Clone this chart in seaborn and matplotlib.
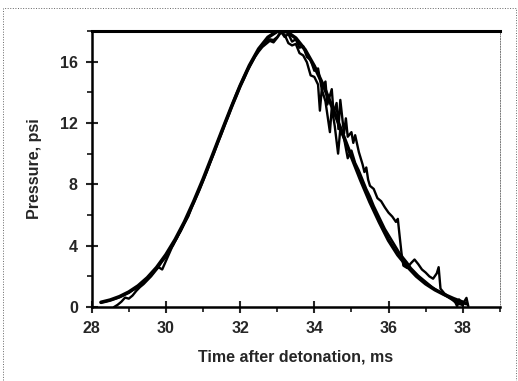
import numpy as np
import pandas as pd
import matplotlib
matplotlib.use('Agg')
import matplotlib.pyplot as plt
import seaborn as sns
from matplotlib.ticker import MultipleLocator

# smooth fitted pulse
fit_t = [28.25, 28.5, 28.75, 29.0, 29.25, 29.5, 29.75, 30.0, 30.25, 30.5, 30.75,
         31.0, 31.25, 31.5, 31.75, 32.0, 32.25, 32.5, 32.75, 33.0, 33.25, 33.5,
         33.75, 34.0, 34.25, 34.5, 34.75, 35.0, 35.25, 35.5, 35.75, 36.0, 36.25,
         36.5, 36.75, 37.0, 37.25, 37.5, 37.75, 38.0, 38.1]
fit_p = [0.31, 0.46, 0.68, 0.98, 1.38, 1.91, 2.58, 3.41, 4.40, 5.55, 6.88,
         8.32, 9.86, 11.42, 12.95, 14.42, 15.74, 16.82, 17.58, 17.97, 17.95, 17.53,
         16.77, 15.70, 14.40, 12.93, 11.38, 9.80, 8.27, 6.84, 5.55, 4.35, 3.40,
         2.66, 2.02, 1.52, 1.13, 0.82, 0.55, 0.32, 0.22]

# measured trace 1 (close to fit)
a_t = [28.25, 28.4, 28.5, 28.6, 28.7, 28.8, 28.9, 29.0, 29.1, 29.2, 29.3, 29.4,
       29.5, 29.6, 29.7, 29.8, 29.9, 30.0, 30.1, 30.2, 30.3, 30.4, 30.5, 30.6,
       30.7, 30.8, 30.9, 31.0, 31.1, 31.2, 31.3, 31.4, 31.5, 31.6, 31.7, 31.8,
       31.9, 32.0, 32.1, 32.2, 32.3, 32.4, 32.5, 32.6, 32.7, 32.8, 32.9, 33.0,
       33.1, 33.2, 33.3, 33.4, 33.5, 33.6, 33.7, 33.8, 33.9, 34.0, 34.1, 34.15,
       34.2, 34.3, 34.42, 34.47, 34.55, 34.64, 34.7, 34.8, 34.9, 35.0, 35.1,
       35.2, 35.3, 35.4, 35.5, 35.6, 35.7, 35.8, 35.9, 36.0, 36.1, 36.2, 36.3,
       36.4, 36.5, 36.6, 36.7, 36.8, 36.9, 37.0, 37.1, 37.2, 37.3, 37.4, 37.5,
       37.6, 37.7, 37.8, 37.9, 38.0]
a_p = [0.30, 0.38, 0.45, 0.52, 0.60, 0.70, 0.82, 0.93, 1.10, 1.22, 1.45, 1.60,
       1.85, 2.05, 2.38, 2.62, 2.98, 3.25, 3.70, 4.05, 4.55, 4.95, 5.45, 5.90,
       6.50, 7.05, 7.60, 8.20, 8.80, 9.45, 10.05, 10.70, 11.30, 11.95, 12.55, 13.20,
       13.75, 14.35, 14.85, 15.40, 15.85, 16.30, 16.65, 16.95, 17.15, 17.35, 17.25, 17.55,
       17.90, 17.75, 17.20, 17.05, 17.15, 16.55, 16.40, 15.95, 15.10, 15.00, 14.50, 12.80,
       14.20, 13.40, 11.40, 13.00, 11.80, 10.00, 11.60, 11.00, 9.70, 10.20, 9.40,
       8.90, 8.30, 7.70, 7.20, 6.60, 6.10, 5.60, 5.10, 4.70, 4.30, 3.90, 3.50,
       3.20, 2.90, 2.55, 2.30, 2.05, 1.85, 1.65, 1.45, 1.25, 1.10, 0.95, 0.80,
       0.65, 0.50, 0.35, 0.20, 0.15]

# measured trace 2 (wider tail)
b_t = [28.6, 28.7, 28.8, 28.9, 29.0, 29.1, 29.2, 29.3, 29.4, 29.5, 29.6, 29.7,
       29.8, 29.9, 30.0, 30.1, 30.2, 30.3, 30.4, 30.5, 30.6, 30.7, 30.8, 30.9,
       31.0, 31.1, 31.2, 31.3, 31.4, 31.5, 31.6, 31.7, 31.8, 31.9, 32.0, 32.1,
       32.2, 32.3, 32.4, 32.5, 32.6, 32.7, 32.8, 32.9, 33.0, 33.1, 33.2, 33.3,
       33.4, 33.5, 33.6, 33.7, 33.8, 33.9, 34.0, 34.1, 34.2, 34.3, 34.35, 34.47,
       34.52, 34.6, 34.65, 34.7, 34.8, 34.85, 34.9, 35.0, 35.05, 35.1, 35.2, 35.3,
       35.35, 35.4, 35.45, 35.5, 35.6, 35.7, 35.8, 35.9, 36.0, 36.1, 36.2, 36.25,
       36.3, 36.35, 36.4, 36.5, 36.6, 36.7, 36.8, 36.9, 37.0, 37.1, 37.2, 37.3,
       37.35, 37.4, 37.5, 37.6, 37.7, 37.8, 37.85, 37.9, 38.0, 38.05, 38.1, 38.15]
b_p = [0.00, 0.15, 0.35, 0.62, 0.55, 0.75, 1.05, 1.30, 1.50, 1.75, 2.00, 2.30,
       2.60, 2.45, 3.00, 3.55, 4.10, 4.50, 5.00, 5.50, 5.95, 6.60, 7.15, 7.70,
       8.30, 8.90, 9.50, 10.15, 10.80, 11.40, 12.05, 12.65, 13.30, 13.90, 14.45, 15.00,
       15.50, 15.95, 16.40, 16.75, 17.05, 17.30, 17.45, 17.40, 17.60, 17.95, 17.60, 17.80,
       17.30, 17.45, 16.90, 17.00, 16.30, 16.10, 15.40, 15.55, 14.20, 14.70, 13.20, 14.20,
       12.60, 13.30, 11.60, 13.50, 11.30, 12.30, 11.10, 11.40, 10.70, 11.20, 10.10, 9.30,
       8.80, 9.10, 8.30, 7.90, 7.70, 7.10, 6.90, 6.50, 6.15, 5.90, 5.55, 5.75,
       4.60, 3.50, 2.70, 2.55, 2.85, 3.10, 2.80, 2.45, 2.25, 2.00, 1.85, 2.20,
       2.60, 1.20, 0.90, 0.70, 0.55, 0.30, 0.05, 0.50, 0.10, 0.40, 0.60, 0.05]

x_ticks = [28, 30, 32, 34, 36, 38]
y_ticks = [0, 4, 8, 12, 16]

sns.set_style('ticks')
plt.rcParams['font.family'] = ['Liberation Sans', 'DejaVu Sans']
plt.rcParams['font.weight'] = 'bold'

fig = plt.figure(figsize=(5.18, 3.81), dpi=100)
ax = fig.add_axes([0.177, 0.194, 0.788, 0.725])

sns.lineplot(x=a_t, y=a_p, ax=ax, color='black', lw=1.7, estimator=None, sort=False)
sns.lineplot(x=b_t, y=b_p, ax=ax, color='black', lw=1.7, estimator=None, sort=False)
sns.lineplot(x=fit_t, y=fit_p, ax=ax, color='black', lw=2.6, estimator=None, sort=False)

ax.set_xlim(28, 39)
ax.set_ylim(0, 18)
ax.set_xticks(x_ticks)
ax.set_yticks(y_ticks)
ax.xaxis.set_minor_locator(MultipleLocator(1))
ax.yaxis.set_minor_locator(MultipleLocator(2))
ax.tick_params(which='major', direction='inout', length=8, width=1.5, labelsize=11.5, pad=6)
ax.tick_params(which='minor', direction='out', length=3.5, width=1.3)
for lab in ax.get_xticklabels() + ax.get_yticklabels():
    lab.set_fontweight('bold')

for side in ['left', 'bottom']:
    ax.spines[side].set_linewidth(1.8)
    ax.spines[side].set_color('black')
ax.spines['top'].set_linewidth(2.2)
ax.spines['top'].set_color('black')
ax.spines['right'].set_linewidth(0.7)
ax.spines['right'].set_color('#777777')
ax.spines['right'].set_linestyle(':')

ax.set_xlabel('Time after detonation, ms', fontsize=11.5, fontweight='bold', labelpad=10)
ax.set_ylabel('Pressure, psi', fontsize=11.5, fontweight='bold', labelpad=13)

# scan border
fig.add_artist(plt.Rectangle((0.006, 0.0), 0.99, 0.978, transform=fig.transFigure,
                             fill=False, lw=0.7, ls=':', ec='#666666'))

fig.savefig('out.png', dpi=100)
